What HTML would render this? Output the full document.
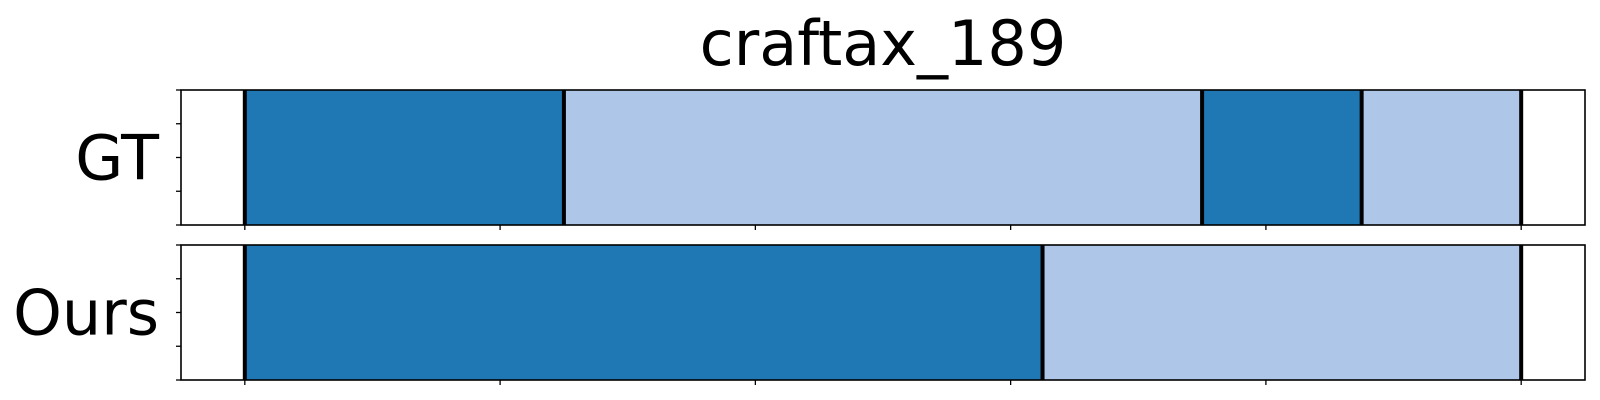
<!DOCTYPE html>
<html><head><meta charset="utf-8"><style>
body{margin:0;background:#fff;font-family:"DejaVu Sans","Liberation Sans",sans-serif;}
svg{display:block}
</style></head><body>
<svg id="chart" width="1600" height="400" xmlns="http://www.w3.org/2000/svg">
<text x="883" y="65" font-size="62" text-anchor="middle" font-family="DejaVu Sans, Liberation Sans, sans-serif">craftax_189</text>
<g id="plots"></g>
</svg>
<script>
const rowLabels = ["GT", "Ours"];
const gtBounds = [0, 25, 75, 87.5, 100];
const gtClasses = [0, 1, 0, 1];
const oursBounds = [0, 62.5, 100];
const oursClasses = [0, 1];
const xTicks = [0, 20, 40, 60, 80, 100];
const yTicks = [0, 0.25, 0.5, 0.75, 1];
const colors = ["#1f77b4", "#aec7e8"];

const NS = "http://www.w3.org/2000/svg";
const X0 = 181, X1 = 1585, xMin = -5, xMax = 105;
const xs = v => X0 + (v - xMin) / (xMax - xMin) * (X1 - X0);
const panels = [{top: 90, bot: 225}, {top: 245, bot: 380}];
const g = document.getElementById("plots");
function mk(tag, attrs) { const e = document.createElementNS(NS, tag); for (const k in attrs) e.setAttribute(k, attrs[k]); g.appendChild(e); return e; }

[[gtBounds, gtClasses], [oursBounds, oursClasses]].forEach((d, i) => {
  const p = panels[i], b = d[0], c = d[1];
  for (let j = 0; j < c.length; j++) {
    const r = mk("rect", {x: xs(b[j]), y: p.top, width: xs(b[j+1]) - xs(b[j]), height: p.bot - p.top, fill: colors[c[j]]});
    
    
  }
  b.forEach((v, j) => {
    const l = mk("line", {x1: xs(v), x2: xs(v), y1: p.top, y2: p.bot, stroke: "#000", "stroke-width": 4});
    
    
  });
  const fr = mk("rect", {x: X0, y: p.top, width: X1 - X0, height: p.bot - p.top, fill: "none", stroke: "#000", "stroke-width": 1.6});
  
  
  yTicks.forEach(t => {
    const y = p.bot - t * (p.bot - p.top);
    const tk = mk("line", {x1: X0 - 5, x2: X0, y1: y, y2: y, stroke: "#000", "stroke-width": 1.3});
    
    
  });
  xTicks.forEach(t => {
    const tk = mk("line", {x1: xs(t), x2: xs(t), y1: p.bot, y2: p.bot + 5, stroke: "#000", "stroke-width": 1.3});
    
    
  });
  const lb = mk("text", {x: 159, y: (p.top + p.bot) / 2 + 22, "font-size": 62, "text-anchor": "end"});
  lb.textContent = rowLabels[i];
  
  
});
</script>
</body></html>
